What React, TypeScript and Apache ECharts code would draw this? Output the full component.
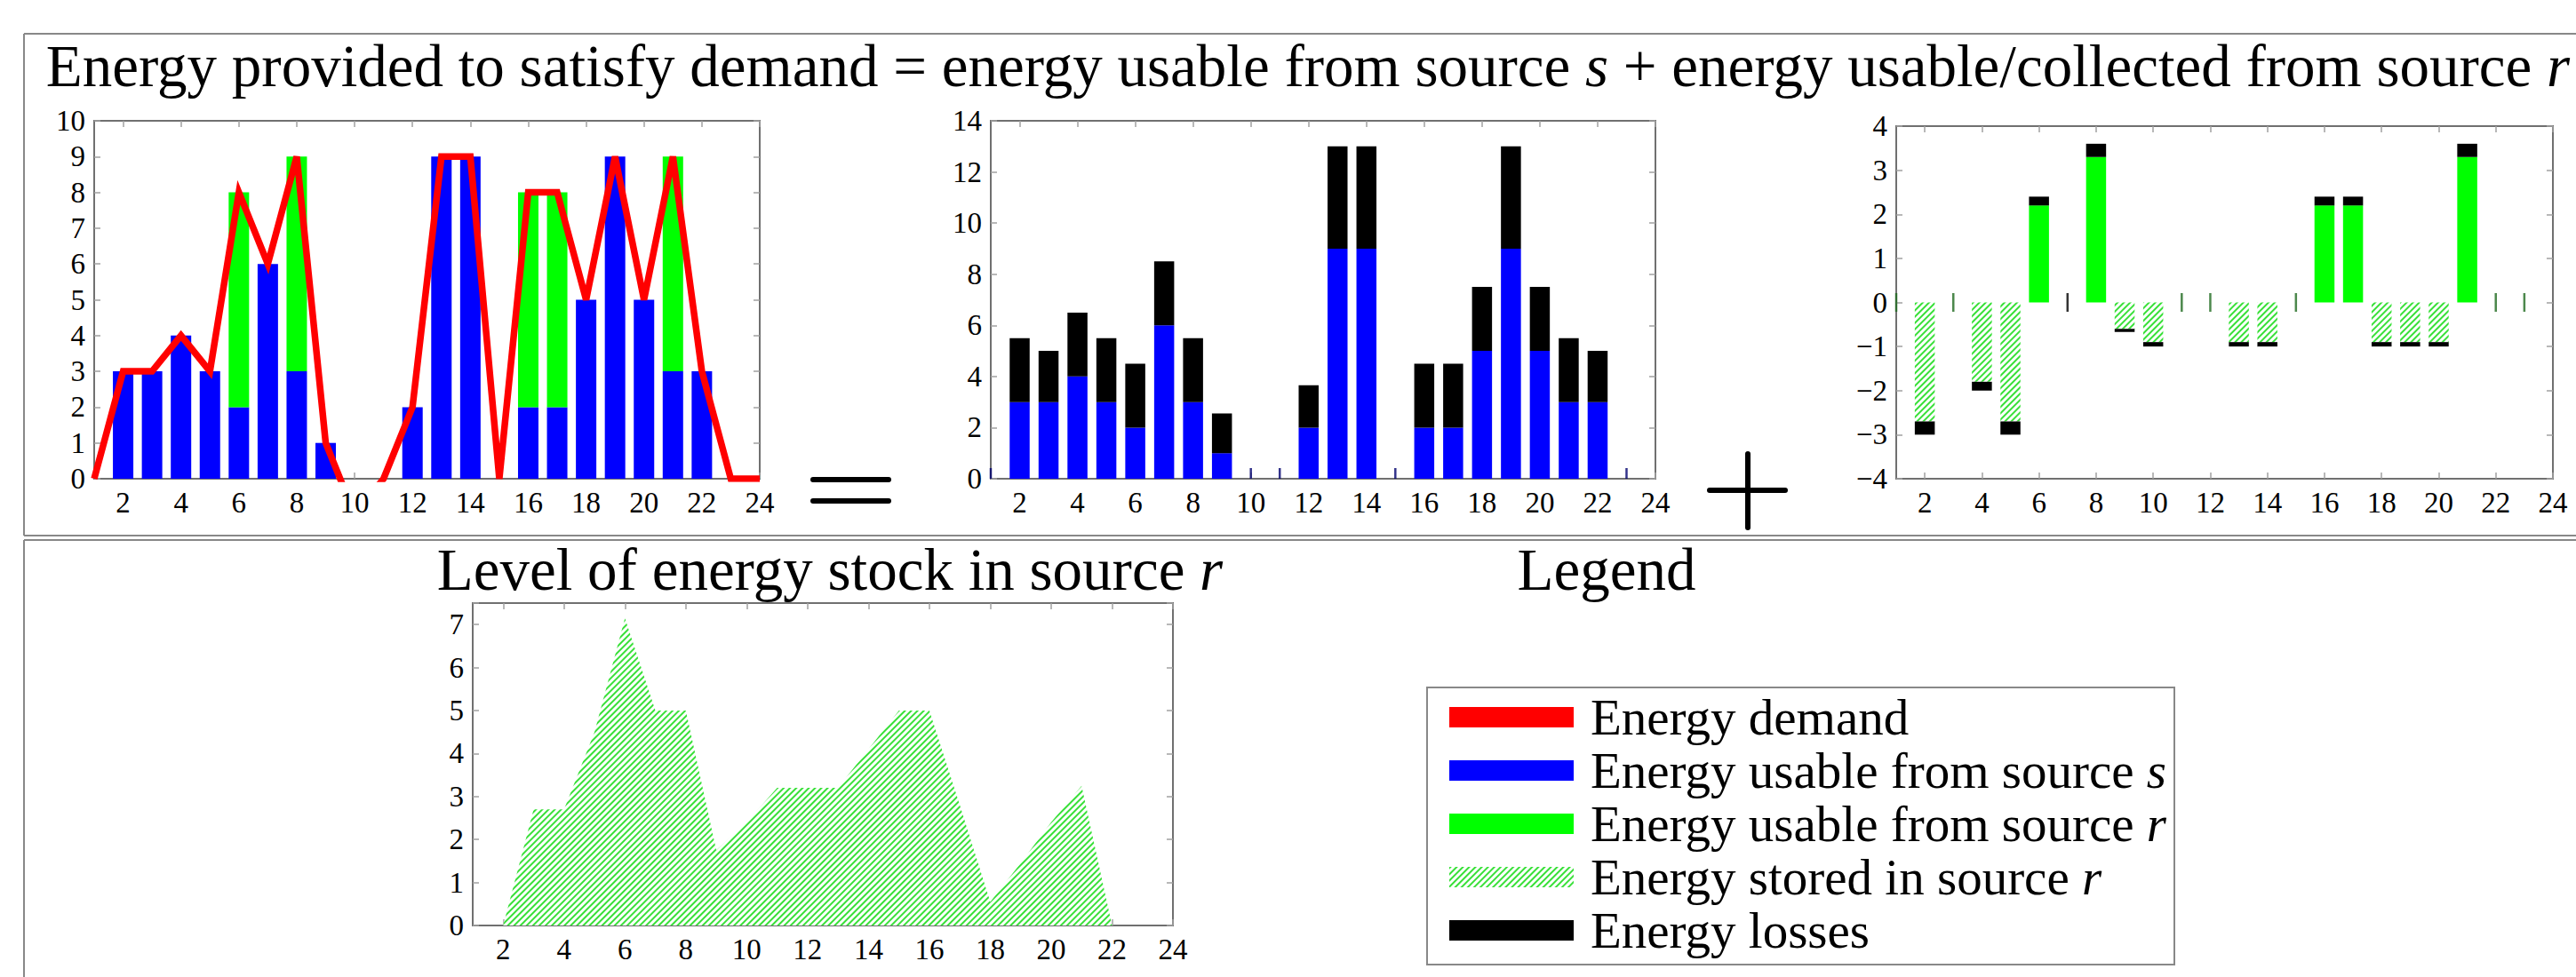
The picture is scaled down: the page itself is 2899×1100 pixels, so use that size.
import React, { useEffect, useRef } from "react";
import * as echarts from "echarts";

// ---------- data ----------
const hourLabels = ["1","2","3","4","5","6","7","8","9","10","11","12","13","14","15","16","17","18","19","20","21","22","23","24"];

// chart 1: energy provided to satisfy demand
const demand = [0,3,3,4,3,8,6,9,1,-1,0,2,9,9,0,8,8,5,9,5,9,3,0,0];
const usableFromS = [0,3,3,4,3,2,6,3,1,0,0,2,9,9,0,2,2,5,9,5,3,3,0,0];
const usableFromR = [0,0,0,0,0,6,0,6,0,0,0,0,0,0,0,6,6,0,0,0,6,0,0,0];

// chart 2: energy usable from source s (+ losses)
const lossesS = [0,2.5,2,2.5,2.5,2.5,2.5,2.5,1.55,0,0,1.66,4,4,0,2.5,2.5,2.5,4,2.5,2.5,2,0,0];
const zeroMarksS = ["1","10","11","15","23"];

// chart 3: energy usable / collected from source r
const netFromR = [0,0,0,0,0,2.2,0,3.3,0,0,0,0,0,0,0,2.2,2.2,0,0,0,3.3,0,0,0];
const storedInR = [0,-2.7,0,-1.8,-2.7,0,0,0,-0.6,-0.9,0,0,-0.9,-0.9,0,0,0,-0.9,-0.9,-0.9,0,0,0,0];
const lossesR = [0,-0.3,0,-0.2,-0.3,0.2,0,0.3,-0.07,-0.1,0,0,-0.1,-0.1,0,0.2,0.2,-0.1,-0.1,-0.1,0.3,0,0,0];
const zeroMarksRGreen = ["1","3","11","12","15","22","23"];
const zeroMarksRBlack = ["7"];

// chart 4: level of energy stock in source r
const stockLevel = [null,0,2.7,2.7,4.5,7.15,5,5,1.75,2.4,3.2,3.2,3.2,4.1,5,5,2.8,0.55,1.45,2.4,3.25,0,null,null];

const legendNames = [
  "Energy demand",
  "Energy usable from source s",
  "Energy usable from source r",
  "Energy stored in source r",
  "Energy losses",
];
const legendRich: Record<string, string> = {
  "Energy demand": "Energy demand",
  "Energy usable from source s": "Energy usable from source {i|s}",
  "Energy usable from source r": "Energy usable from source {i|r}",
  "Energy stored in source r": "Energy stored in source {i|r}",
  "Energy losses": "Energy losses",
};

// ---------- styling ----------
const FONT = "'Liberation Serif', 'Times New Roman', serif";
const FRAME = "#707070";
const TICK = "#a0a0a0";
const BOX = "#888888";
const BLUE = "#0000ff";
const GREEN = "#00ff00";
const RED = "#ff0000";
const TICK_FONT = 33;

const hatchDecal = {
  symbol: "rect",
  symbolSize: 1,
  color: "#38e038",
  dashArrayX: [1, 0],
  dashArrayY: [2, 2.5],
  rotation: -Math.PI / 4,
};

const evenOnly = (_i: number, v: string) => Number(v) % 2 === 0;
const minusFmt = (v: number) => (v < 0 ? "\u2212" + Math.abs(v) : String(v));

function xAxes(gridIndex: number) {
  const tick = { show: true, inside: true, length: 7, interval: evenOnly, lineStyle: { color: TICK, width: 1.5 } };
  return [
    {
      type: "category", gridIndex, data: hourLabels, boundaryGap: false, position: "bottom",
      axisLine: { show: false, onZero: false }, axisTick: tick,
      axisLabel: { interval: evenOnly, fontSize: TICK_FONT, fontFamily: FONT, color: "#000", margin: 10 },
      splitLine: { show: false },
    },
    {
      type: "category", gridIndex, data: hourLabels, boundaryGap: false, position: "top",
      axisLine: { show: false, onZero: false }, axisTick: tick, axisLabel: { show: false }, splitLine: { show: false },
    },
  ];
}

function yAxes(gridIndex: number, min: number, max: number, interval: number, formatter?: any) {
  const tick = { show: true, inside: true, length: 7, lineStyle: { color: TICK, width: 1.5 } };
  return [
    {
      type: "value", gridIndex, min, max, interval, position: "left",
      axisLine: { show: false, onZero: false }, axisTick: tick,
      axisLabel: { fontSize: TICK_FONT, fontFamily: FONT, color: "#000", margin: 10, formatter },
      splitLine: { show: false },
    },
    {
      type: "value", gridIndex, min, max, interval, position: "right",
      axisLine: { show: false, onZero: false }, axisTick: tick, axisLabel: { show: false }, splitLine: { show: false },
    },
  ];
}

const gridBase = { show: true, borderColor: FRAME, borderWidth: 2, backgroundColor: "transparent", containLabel: false };

function hline(x1: number, x2: number, y: number, w = 2, c = BOX, cap = "butt") {
  return { type: "line", shape: { x1, y1: y, x2, y2: y }, style: { stroke: c, lineWidth: w, lineCap: cap }, silent: true };
}
function vline(x: number, y1: number, y2: number, w = 2, c = BOX, cap = "butt") {
  return { type: "line", shape: { x1: x, y1, x2: x, y2 }, style: { stroke: c, lineWidth: w, lineCap: cap }, silent: true };
}
function label(text: string, x: number, y: number, size: number) {
  return {
    type: "text", x, y, silent: true,
    style: {
      text, fontSize: size, fontFamily: FONT, fill: "#000", align: "center", verticalAlign: "middle",
      rich: { i: { fontSize: size, fontFamily: FONT, fontStyle: "italic", fill: "#000" } },
    },
  };
}

export default function App() {
  const ref = useRef<HTMLDivElement>(null);

  useEffect(() => {
    document.body.style.margin = "0";
    if (!ref.current) return;
    const chart = echarts.init(ref.current, null, { renderer: "svg" });

    const option: any = {
      animation: false,
      backgroundColor: "#ffffff",
      grid: [
        { ...gridBase, left: 106, top: 136, width: 749, height: 403 },
        { ...gridBase, left: 1115, top: 136, width: 748, height: 403 },
        { ...gridBase, left: 2134, top: 142, width: 739, height: 397 },
        { ...gridBase, left: 532, top: 679, width: 788, height: 363 },
      ],
      xAxis: [...xAxes(0), ...xAxes(1), ...xAxes(2), ...xAxes(3)],
      yAxis: [
        ...yAxes(0, 0, 10, 1),
        ...yAxes(1, 0, 14, 2),
        ...yAxes(2, -4, 4, 1, minusFmt),
        ...yAxes(3, 0, 7.5, 1, (v: number) => (v > 7 ? "" : String(v))),
      ],
      legend: {
        data: legendNames.map((name) => ({ name, icon: "rect" })),
        orient: "vertical",
        left: 1626,
        top: 774,
        itemWidth: 140,
        itemHeight: 23,
        itemGap: 3,
        selectedMode: false,
        formatter: (name: string) => legendRich[name],
        textStyle: {
          fontFamily: FONT, fontSize: 57, color: "#000", lineHeight: 57, padding: [0, 0, 0, 14],
          rich: { i: { fontFamily: FONT, fontSize: 57, fontStyle: "italic", color: "#000", lineHeight: 57 } },
        },
      },
      series: [
        // chart 1
        { name: "Energy usable from source s", type: "bar", xAxisIndex: 0, yAxisIndex: 0, stack: "c1", barWidth: 23, data: usableFromS, itemStyle: { color: BLUE } },
        { name: "Energy usable from source r", type: "bar", xAxisIndex: 0, yAxisIndex: 0, stack: "c1", barWidth: 23, data: usableFromR, itemStyle: { color: GREEN } },
        {
          name: "Energy demand", type: "line", xAxisIndex: 0, yAxisIndex: 0, data: demand, symbol: "none", z: 5,
          itemStyle: { color: RED }, lineStyle: { color: RED, width: 7.5, join: "miter", miterLimit: 10 },
        },
        // chart 2
        { name: "Energy usable from source s", type: "bar", xAxisIndex: 2, yAxisIndex: 2, stack: "c2", barWidth: 22.5, data: usableFromS, itemStyle: { color: BLUE } },
        { name: "Energy losses", type: "bar", xAxisIndex: 2, yAxisIndex: 2, stack: "c2", barWidth: 22.5, data: lossesS, itemStyle: { color: "#000000" } },
        {
          name: "zero-s", type: "scatter", xAxisIndex: 2, yAxisIndex: 2, silent: true,
          data: zeroMarksS.map((h) => [h, 0]), symbol: "rect", symbolSize: [2.5, 12], symbolOffset: [0, -6],
          itemStyle: { color: "#00006e" },
        },
        // chart 3
        { name: "Energy usable from source r", type: "bar", xAxisIndex: 4, yAxisIndex: 4, stack: "c3", barWidth: 22.5, data: netFromR, itemStyle: { color: GREEN } },
        { name: "Energy stored in source r", type: "bar", xAxisIndex: 4, yAxisIndex: 4, stack: "c3", barWidth: 22.5, data: storedInR, itemStyle: { color: "#ffffff", decal: hatchDecal } },
        { name: "Energy losses", type: "bar", xAxisIndex: 4, yAxisIndex: 4, stack: "c3", barWidth: 22.5, data: lossesR, itemStyle: { color: "#000000" } },
        {
          name: "zero-r", type: "scatter", xAxisIndex: 4, yAxisIndex: 4, silent: true,
          data: zeroMarksRGreen.map((h) => [h, 0]), symbol: "rect", symbolSize: [2.5, 21],
          itemStyle: { color: "#1f6a1f" },
        },
        {
          name: "zero-r-black", type: "scatter", xAxisIndex: 4, yAxisIndex: 4, silent: true,
          data: zeroMarksRBlack.map((h) => [h, 0]), symbol: "rect", symbolSize: [2.5, 21],
          itemStyle: { color: "#000000" },
        },
        // chart 4
        {
          name: "Energy stored in source r", type: "line", xAxisIndex: 6, yAxisIndex: 6, data: stockLevel, symbol: "none",
          lineStyle: { width: 0 }, itemStyle: { color: "#ffffff", decal: hatchDecal }, areaStyle: { color: "#ffffff", opacity: 1 },
        },
      ],
      graphic: [
        // frames
        hline(27, 2899, 38),
        vline(27, 38, 603),
        hline(27, 2899, 603),
        hline(27, 2899, 608),
        vline(27, 608, 1100),
        // legend box
        { type: "rect", shape: { x: 1606, y: 774, width: 841, height: 312 }, style: { fill: "none", stroke: BOX, lineWidth: 2 }, silent: true },
        // = sign
        hline(915, 1000, 540, 6, "#000", "round"),
        hline(915, 1000, 564, 6, "#000", "round"),
        // + sign
        hline(1924, 2009, 552, 6, "#000", "round"),
        vline(1967, 511, 594, 6, "#000", "round"),
        // titles
        label("Energy provided to satisfy demand = energy usable from source {i|s} + energy usable/collected from source {i|r}", 1472, 74, 67),
        label("Level of energy stock in source {i|r}", 934, 641, 67),
        label("Legend", 1808, 641, 67),
      ],
    };

    chart.setOption(option);
    return () => chart.dispose();
  }, []);

  return <div ref={ref} style={{ position: "absolute", left: 0, top: 0, width: 2899, height: 1100 }} />;
}
